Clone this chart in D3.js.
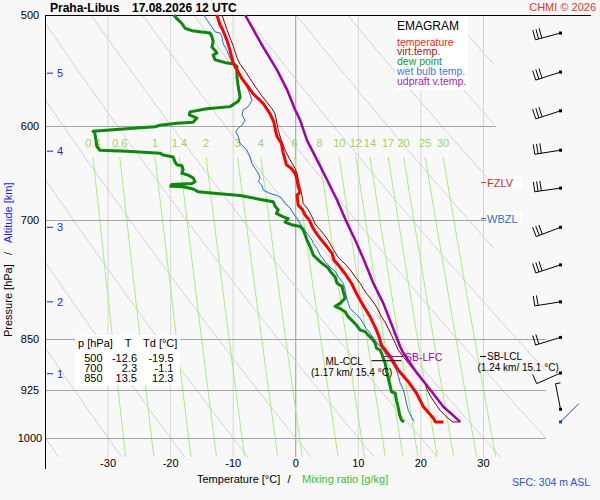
<!DOCTYPE html>
<html>
<head>
<meta charset="utf-8">
<script src="https://cdn.jsdelivr.net/npm/d3@7"></script>
<style>
  body { margin: 0; background: #f8f8f8; }
  svg { display: block; font-family: "Liberation Sans", Arial, sans-serif; }
</style>
</head>
<body>
<div id="emagram"></div>
<script>
var width  = 600;
var height = 500;

// ---------------- data read from the sounding ----------------
// [pressure hPa, value degC]
var temperature = [[500,-12.6],[508,-12.1],[512,-11.7],[521,-11.0],[530,-10.5],[541,-10.0],[547,-9.4],[555,-8.6],[561,-7.8],[569,-6.8],[578,-5.2],[588,-4.1],[596,-3.5],[605,-3.2],[610,-3.0],[617,-2.3],[627,-2.0],[634,-1.7],[639,-1.5],[643,-0.7],[648,-0.1],[655,0.2],[663,0.4],[668,0.7],[672,0.2],[677,0.3],[683,0.4],[688,1.1],[694,1.5],[700,2.2],[707,2.6],[713,3.1],[721,3.9],[731,5.0],[739,5.8],[747,6.1],[753,6.8],[764,7.9],[776,8.9],[789,9.7],[798,10.3],[809,11.1],[820,11.9],[838,12.9],[847,13.3],[859,13.7],[875,15.1],[895,16.4],[912,18.0],[929,19.3],[950,20.4],[968,22.0],[974,22.3],[974,23.6]];

var virtualTemp = [[500,-11.8],[506,-11.4],[512,-11.0],[519,-10.5],[526,-10.0],[536,-9.4],[542,-8.9],[548,-8.1],[555,-7.3],[562,-6.5],[571,-5.4],[577,-4.6],[583,-3.8],[588,-3.3],[604,-2.8],[614,-2.3],[624,-1.7],[634,-0.9],[643,-0.1],[648,0.2],[655,0.4],[664,0.7],[672,1.0],[681,1.2],[688,2.0],[696,2.6],[704,3.1],[711,3.9],[721,5.0],[734,6.0],[744,6.8],[752,7.9],[759,8.7],[768,9.5],[776,10.3],[783,10.8],[789,11.3],[795,11.9],[804,12.7],[811,13.2],[820,13.7],[827,14.3],[836,14.8],[845,15.3],[856,15.9],[866,16.4],[875,17.2],[885,18.0],[897,19.1],[907,20.1],[915,20.7],[924,21.0],[935,21.6],[945,22.3],[956,23.1],[964,23.9],[971,24.7],[974,25.1],[974,26.3]];

var dewPoint = [[500,-19.5],[503,-19.0],[507,-18.2],[511,-17.7],[513,-16.6],[514,-15.3],[515,-13.7],[518,-13.4],[522,-13.2],[527,-13.4],[530,-12.9],[532,-12.6],[534,-13.2],[538,-12.9],[541,-11.0],[541.5,-10.0],[544,-9.4],[553,-9.4],[562,-9.2],[572,-8.9],[576,-9.2],[581,-10.5],[583,-14.2],[586,-16.9],[589,-17.0],[592,-15.8],[596,-16.4],[597,-19.0],[599,-21.7],[600.5,-22.5],[602,-26.0],[605,-32.4],[607,-32.1],[620,-31.8],[624,-31.3],[625,-27.0],[627,-21.7],[629,-21.2],[631,-19.6],[636,-19.3],[639,-19.0],[640,-18.2],[644,-18.0],[648,-18.2],[650,-17.2],[653,-16.4],[657,-16.1],[659,-16.6],[660,-19.8],[662,-20.0],[662.5,-18.0],[665,-16.4],[668,-15.6],[670,-12.6],[672,-8.9],[677,-5.2],[679,-3.6],[684,-3.3],[688,-2.8],[692,-3.1],[696,-2.0],[698,-1.2],[702,-1.7],[705,-0.7],[707,0.7],[711,1.2],[717,1.5],[723,1.8],[731,2.3],[741,2.8],[747,3.6],[751,4.2],[757,5.2],[761,5.5],[768,6.3],[776,6.6],[780,7.4],[787,7.6],[795,7.9],[802,7.1],[806,6.3],[809,7.1],[813,7.9],[820,8.4],[824,8.9],[831,9.7],[838,10.3],[840,11.1],[845,11.6],[849,12.1],[856,12.7],[863,12.9],[866,13.5],[870,13.7],[878,14.0],[885,14.3],[895,14.5],[907,14.8],[919,15.1],[927,15.3],[929,15.9],[940,16.1],[952,16.4],[963,16.6],[971,16.9],[974,17.3]];

var wetBulb = [[500,-14.7],[504,-14.2],[510,-13.4],[514,-12.9],[515,-12.1],[518,-11.8],[524,-11.6],[530,-11.0],[537,-10.5],[541,-10.0],[547,-9.4],[556,-8.4],[565,-7.6],[575,-7.0],[581,-7.6],[584,-8.4],[589,-8.6],[594,-8.1],[599,-8.6],[602,-9.2],[605,-9.6],[610,-9.2],[617,-8.9],[620,-8.4],[624,-7.8],[627,-7.6],[631,-7.3],[638,-7.0],[648,-6.0],[653,-5.7],[657,-6.0],[661,-5.4],[666,-5.2],[670,-4.1],[672,-3.0],[675,-2.3],[681,-1.7],[686,-0.9],[692,-0.4],[698,0.2],[704,0.7],[709,1.2],[715,1.8],[723,2.6],[727,2.8],[733,3.4],[741,3.9],[749,4.7],[756,5.5],[761,6.3],[768,6.8],[776,7.6],[785,7.9],[794,8.1],[802,8.4],[809,8.7],[815,9.5],[822,10.3],[829,10.8],[836,11.3],[842,11.9],[849,12.4],[854,12.9],[861,13.5],[866,14.0],[873,14.5],[880,15.1],[887,15.6],[895,16.1],[904,16.4],[914,16.7],[924,17.2],[935,17.5],[945,17.7],[956,18.0],[966,18.5],[973,18.9]];

var parcelTv = [[500,-8.1],[512,-6.8],[527,-5.2],[547,-3.0],[565,-1.4],[584,-0.1],[594,0.7],[614,1.8],[634,3.4],[655,5.0],[677,6.6],[700,8.0],[723,9.5],[747,10.9],[776,12.4],[802,14.0],[832,15.4],[861,16.7],[870,17.2],[898,19.3],[924,21.5],[950,23.6],[974,26.3]];

// wind: pressure, direction (deg), speed (kt)
var windP   = [515, 549, 585, 624, 664, 708, 753, 800, 848, 899, 954];
var windDir = [255, 252, 252, 261, 262, 249, 252, 261, 253, 246, 349];
var windKt  = [30, 30, 30, 30, 30, 30, 30, 20, 20, 10, 5];
var sfcWind = {p: 974, dir: 45, kt: 2};

var altitudeKm  = [1, 2, 3, 4, 5];
var altitudeHpa = [900, 800, 708, 625, 550];

var isobars      = [500, 600, 700, 850, 925, 1000];
var isotherms    = [-30, -20, -10, 0, 10, 20, 30];
var mixingRatios = [0.4, 0.6, 1, 1.4, 2, 3, 4, 6, 8, 10, 12, 14, 17, 20, 25, 30];
var adiabatsC    = d3.range(-40, 101, 10);

var tableRows = [[500, -12.6, -19.5], [700, 2.3, -1.1], [850, 13.5, 12.3]];

var levelFZLV = 658;
var levelWBZL = 698;
var levelLFC  = {p: 875, t0: 14.0, t1: 17.2};
var levelCCL  = {p: 881, t0: 12.1, t1: 16.9};
var levelLCL  = {p: 875};

// ---------------- scales ----------------
var x = d3.scaleLinear().domain([-40, 40]).range([45.5, 546]);
var y = d3.scaleLog().domain([500, 1050]).range([15, 467.8]);

var svg = d3.select("#emagram").append("svg")
    .attr("width", width)
    .attr("height", height);

svg.append("rect")
    .attr("width", width).attr("height", height)
    .attr("fill", "#f8f8f8");

svg.append("defs").append("clipPath")
    .attr("id", "plotClip")
  .append("polygon")
    .attr("points", "46,16 494,16 494,300 546,340 546,457 46,457");

var grid = svg.append("g").attr("clip-path", "url(#plotClip)");

// ------------- isotherms -----------------
grid.selectAll("line.iso")
    .data(isotherms)
    .enter()
  .append("line")
    .attr("x1", function(d){ return x(d); })
    .attr("x2", function(d){ return x(d); })
    .attr("y1", 15).attr("y2", 457)
    .attr("stroke", function(d){ return d == 0 ? "#9a9a9a" : "#d6d6d6"; })
    .attr("stroke-width", 1);

// ------------- dry adiabats -----------------
var pSteps = d3.range(500, 1051, 5);
var adiabatLine = d3.line()
    .x(function(d){ return x(d[1]); })
    .y(function(d){ return y(d[0]); });

adiabatsC.forEach(function(th){
  var pts = pSteps.map(function(p){
    return [p, (th + 273.15) * Math.pow(p / 1000, 0.286) - 273.15];
  });
  grid.append("path")
      .attr("d", adiabatLine(pts))
      .attr("fill", "none")
      .attr("stroke", "#d2d2d2")
      .attr("stroke-width", 1);
});

// ------------- mixing ratio lines -----------------
function dewFromMix(w, p){
  var e = w * p / (622 + w);
  var l = Math.log(e / 6.112);
  return 243.5 * l / (17.67 - l);
}
var mixTop = 631, mixBottom = 1031;
var mixSteps = d3.range(mixTop, mixBottom + 1, 10);

mixingRatios.forEach(function(w){
  var pts = mixSteps.map(function(p){ return [p, dewFromMix(w, p)]; });
  grid.append("path")
      .attr("d", adiabatLine(pts))
      .attr("fill", "none")
      .attr("stroke", "#a6f07a")
      .attr("stroke-width", 1);
});

svg.selectAll("text.mix")
    .data(mixingRatios)
    .enter()
  .append("text")
    .attr("x", function(d){ return x(dewFromMix(d, mixTop)); })
    .attr("y", 146.5)
    .attr("text-anchor", "middle")
    .style("font-size", "11px")
    .attr("fill", "#9ad658")
    .text(function(d){ return String(d); });

// ------------- isobars -----------------
svg.selectAll("line.isobar")
    .data(isobars.slice(1))
    .enter()
  .append("line")
    .attr("x1", 46)
    .attr("x2", function(d){ return d <= 700 ? 496 : 546; })
    .attr("y1", function(d){ return Math.round(y(d)) + 0.5; })
    .attr("y2", function(d){ return Math.round(y(d)) + 0.5; })
    .attr("stroke", "#a4a4a4")
    .attr("stroke-width", 1);

// frame
svg.append("line").attr("x1", 45.5).attr("x2", 45.5).attr("y1", 15).attr("y2", 469)
    .attr("stroke", "#000").attr("stroke-width", 1);
svg.append("line").attr("x1", 45.5).attr("x2", 591).attr("y1", 15.5).attr("y2", 15.5)
    .attr("stroke", "#000").attr("stroke-width", 1);

// ------------- table of values -----------------
svg.append("rect").attr("x", 75).attr("y", 335).attr("width", 105).attr("height", 50)
    .attr("fill", "#ffffff");
var tab = svg.append("g").style("font-size", "11px").attr("fill", "#000");
tab.append("text").attr("x", 78).attr("y", 347).text("p [hPa]");
tab.append("text").attr("x", 128).attr("y", 347).attr("text-anchor", "middle").text("T");
tab.append("text").attr("x", 143).attr("y", 347).text("Td [°C]");
tableRows.forEach(function(r, i){
  var yy = 362 + i * 10.2;
  tab.append("text").attr("x", 102.5).attr("y", yy).attr("text-anchor", "end").text(r[0]);
  tab.append("text").attr("x", 137).attr("y", yy).attr("text-anchor", "end").text(r[1].toFixed(1));
  tab.append("text").attr("x", 173.5).attr("y", yy).attr("text-anchor", "end").text(r[2].toFixed(1));
});

// ------------- sounding curves -----------------
var curve = d3.line()
    .x(function(d){ return x(d[1]); })
    .y(function(d){ return y(d[0]); });

var curves = [
  {data: wetBulb,     color: "#1e66e8", w: 1},
  {data: virtualTemp, color: "#8b0000", w: 1},
  {data: dewPoint,    color: "#0a8a0a", w: 3},
  {data: temperature, color: "#ff0000", w: 3},
  {data: parcelTv,    color: "#a400aa", w: 2.5}
];
curves.forEach(function(c){
  svg.append("path")
      .attr("d", curve(c.data))
      .attr("fill", "none")
      .attr("stroke", c.color)
      .attr("stroke-width", c.w)
      .attr("stroke-linejoin", "round");
});

// ------------- levels -----------------
svg.append("line")
    .attr("x1", x(levelLFC.t0)).attr("x2", x(levelLFC.t1))
    .attr("y1", y(levelLFC.p)).attr("y2", y(levelLFC.p))
    .attr("stroke", "#a400aa").attr("stroke-width", 1);
svg.append("text").attr("x", 405).attr("y", y(levelLFC.p) + 4)
    .style("font-size", "10.5px").attr("fill", "#a400aa").text("SB-LFC");

svg.append("line")
    .attr("x1", x(levelCCL.t0)).attr("x2", x(levelCCL.t1))
    .attr("y1", y(levelCCL.p)).attr("y2", y(levelCCL.p))
    .attr("stroke", "#000").attr("stroke-width", 1);
svg.append("text").attr("x", 325.5).attr("y", 365.3)
    .style("font-size", "10px").attr("fill", "#000").text("ML-CCL");
svg.append("text").attr("x", 311).attr("y", 376.3)
    .style("font-size", "10px").attr("fill", "#000").text("(1.17 km/ 15.4 °C)");

svg.append("line").attr("x1", 480).attr("x2", 486)
    .attr("y1", y(levelLCL.p)).attr("y2", y(levelLCL.p))
    .attr("stroke", "#000").attr("stroke-width", 1);
svg.append("text").attr("x", 487).attr("y", y(levelLCL.p) + 3.6)
    .style("font-size", "10px").attr("fill", "#000").text("SB-LCL");
svg.append("text").attr("x", 477.5).attr("y", 370.6)
    .style("font-size", "10px").attr("fill", "#000").text("(1.24 km/ 15.1 °C)");

function zeroLevel(p, label, color){
  var yy = y(p);
  svg.append("rect").attr("x", 486.5).attr("y", yy - 6).attr("width", 36).attr("height", 11)
      .attr("fill", "#ffffff");
  svg.append("line").attr("x1", 481).attr("x2", 486).attr("y1", yy).attr("y2", yy)
      .attr("stroke", color).attr("stroke-width", 1);
  svg.append("text").attr("x", 487).attr("y", yy + 4)
      .style("font-size", "11px").attr("fill", color).text(label);
}
zeroLevel(levelFZLV, "FZLV", "#f02020");
zeroLevel(levelWBZL, "WBZL", "#2a6ae0");

// ------------- legend -----------------
svg.append("rect").attr("x", 395).attr("y", 16).attr("width", 73).attr("height", 74)
    .attr("fill", "#ffffff");
svg.append("text").attr("x", 397).attr("y", 30).style("font-size", "12px")
    .attr("fill", "#000").text("EMAGRAM");
var legendItems = [
  {label: "temperature",     color: "#ff2020"},
  {label: "virt.temp.",      color: "#a81818"},
  {label: "dew point",       color: "#1a9a1a"},
  {label: "wet bulb temp.",  color: "#3a78ec"},
  {label: "udpraft v.temp.", color: "#b020b8"}
];
svg.selectAll("text.legend")
    .data(legendItems)
    .enter()
  .append("text")
    .attr("x", 397)
    .attr("y", function(d, i){ return 45.5 + i * 9.9; })
    .style("font-size", "10.5px")
    .attr("fill", function(d){ return d.color; })
    .text(function(d){ return d.label; });

// ------------- wind barbs -----------------
var barbX = 560.5;
function drawBarb(p, dir, kt, color){
  var yy = y(p);
  var a = dir * Math.PI / 180;
  var ux = Math.sin(a), uy = -Math.cos(a);
  var L = 26;
  var g = svg.append("g").attr("stroke", color).attr("stroke-width", 1).attr("fill", "none");
  g.append("line").attr("x1", barbX).attr("y1", yy)
      .attr("x2", barbX + ux * L).attr("y2", yy + uy * L);
  var full = Math.floor(kt / 10), half = (kt % 10) >= 5 ? 1 : 0;
  var pos = L;
  for (var i = 0; i < full + half; i++){
    var len = i < full ? 10 : 5;
    var bx = barbX + ux * pos, by = yy + uy * pos;
    g.append("line").attr("x1", bx).attr("y1", by)
        .attr("x2", bx - uy * len)
        .attr("y2", by + ux * len);
    pos -= 3.3;
  }
  svg.append("rect").attr("x", barbX - 1.5).attr("y", yy - 1.5)
      .attr("width", 3).attr("height", 3).attr("fill", color);
}
windP.forEach(function(p, i){ drawBarb(p, windDir[i], windKt[i], "#000"); });
drawBarb(sfcWind.p, sfcWind.dir, sfcWind.kt, "#1a3ae8");

// ------------- axes texts -----------------
svg.selectAll("text.plab")
    .data(isobars)
    .enter()
  .append("text")
    .attr("x", 30)
    .attr("y", function(d){ return y(d) + 4; })
    .attr("text-anchor", "middle")
    .style("font-size", "11px")
    .attr("fill", "#000")
    .text(function(d){ return d; });

svg.selectAll("text.tlab")
    .data(isotherms)
    .enter()
  .append("text")
    .attr("x", function(d){ return x(d); })
    .attr("y", 466.5)
    .attr("text-anchor", "middle")
    .style("font-size", "11px")
    .attr("fill", "#000")
    .text(function(d){ return d; });

altitudeKm.forEach(function(k, i){
  var yy = y(altitudeHpa[i]);
  svg.append("line").attr("x1", 47).attr("x2", 53).attr("y1", yy).attr("y2", yy)
      .attr("stroke", "#1a1aff").attr("stroke-width", 1);
  svg.append("text").attr("x", 57).attr("y", yy + 4)
      .style("font-size", "11px").attr("fill", "#1a1aff").text(k);
});

var yTitle = svg.append("text")
    .attr("transform", "translate(12,337) rotate(-90)")
    .style("font-size", "11px");
yTitle.append("tspan").attr("x", 0).attr("fill", "#000").text("Pressure [hPa]");
yTitle.append("tspan").attr("x", 82).attr("fill", "#000").text("/");
yTitle.append("tspan").attr("x", 94).attr("fill", "#1a1aff").text("Altitude [km]");

var xTitle = svg.append("text").attr("y", 483).style("font-size", "11px");
xTitle.append("tspan").attr("x", 197).attr("fill", "#000").text("Temperature [°C]");
xTitle.append("tspan").attr("x", 287.5).attr("fill", "#000").text("/");
xTitle.append("tspan").attr("x", 302).attr("fill", "#33c433").text("Mixing ratio [g/kg]");

svg.append("text").attr("x", 512).attr("y", 485.5).style("font-size", "10.5px")
    .attr("fill", "#2a4ee8").text("SFC: 304 m ASL");

// ------------- title -----------------
svg.append("text").attr("x", 50).attr("y", 11.5)
    .style("font-size", "12px").style("font-weight", "bold").text("Praha-Libus");
svg.append("text").attr("x", 132).attr("y", 11.5)
    .style("font-size", "12px").style("font-weight", "bold").text("17.08.2026 12 UTC");
svg.append("text").attr("x", 596).attr("y", 11).attr("text-anchor", "end")
    .style("font-size", "11px").attr("fill", "#f03030").text("CHMI © 2026");
</script>
</body>
</html>
